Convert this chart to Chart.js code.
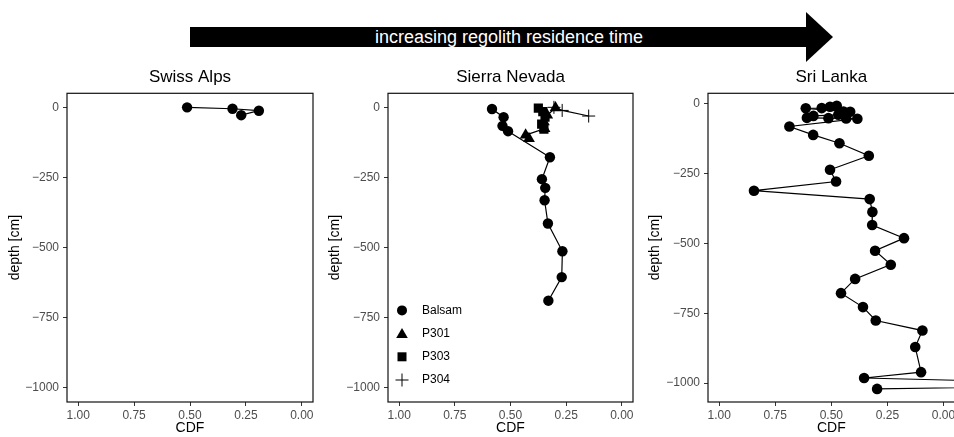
<!DOCTYPE html>
<html>
<head>
<meta charset="utf-8">
<script src="https://cdn.jsdelivr.net/npm/chart.js@4.4.1/dist/chart.umd.min.js"></script>
<style>
  html, body { margin: 0; padding: 0; background: #fff; }
  body { width: 954px; height: 437px; position: relative; overflow: hidden; font-family: "Liberation Sans", Arial, Helvetica, sans-serif; }
  canvas { position: absolute; top: 60px; }
  .arrow-body { position: absolute; left: 190px; top: 27px; width: 617px; height: 20px; background: #000; }
  .arrow-head { position: absolute; left: 806px; top: 12px; width: 27px; height: 50px; background: #000; clip-path: polygon(0 0, 100% 50%, 0 100%); }
  .arrow-text { position: absolute; left: 190px; width: 638px; top: 27px; height: 20px; line-height: 20px; text-align: center; color: #fff; font-size: 18px; white-space: nowrap; }
</style>
</head>
<body>
<div class="arrow-body"></div>
<div class="arrow-head"></div>
<div class="arrow-text">increasing regolith residence time</div>
<canvas id="chartSwiss" width="320" height="377" style="left:0px"></canvas>
<canvas id="chartSierra" width="330" height="377" style="left:320px"></canvas>
<canvas id="chartSri" width="320" height="377" style="left:640px"></canvas>
<script>
// Axis ticks
const cdfTicks = [0, 0.25, 0.5, 0.75, 1];
const depthTicks = [0, -250, -500, -750, -1000];

// Swiss Alps
const swissCdf = [0.513, 0.31, 0.192, 0.271];
const swissDepth = [0, -5, -12, -28];

// Sierra Nevada profiles
const balsamCdf = [0.583, 0.531, 0.536, 0.511, 0.323, 0.359, 0.344, 0.347, 0.332, 0.267, 0.270, 0.330];
const balsamDepth = [-6, -35, -66, -85, -178, -256, -287, -331, -414, -513, -605, -689];
const p301Cdf = [0.298, 0.335, 0.35, 0.347, 0.432, 0.417];
const p301Depth = [-2, -28, -52, -76, -99, -111];
const p303Cdf = [0.375, 0.355, 0.345, 0.36, 0.35];
const p303Depth = [-3, -15, -35, -60, -78];
const p304Cdf = [0.305, 0.268, 0.149];
const p304Depth = [0, -11, -31];

// Sri Lanka
const sriCdf = [0.476, 0.506, 0.543, 0.614, 0.446, 0.416, 0.469, 0.580, 0.609, 0.513, 0.434, 0.384,
  0.687, 0.581, 0.464, 0.333, 0.506, 0.479, 0.845, 0.329, 0.317, 0.318, 0.176, 0.305, 0.235,
  0.394, 0.457, 0.359, 0.302, 0.094, 0.126, 0.100, 0.354, -0.9, 0.296];
const sriDepth = [-7, -10, -15, -16, -27, -28, -39, -43, -50, -51, -52, -53,
  -81, -111, -141, -186, -236, -278, -311, -341, -387, -434, -481, -526, -576,
  -627, -678, -728, -776, -812, -871, -961, -982, -1007, -1021];

const FONT = '"Liberation Sans", Arial, Helvetica, sans-serif';

function toPoints(xs, ys) {
  return xs.map((x, i) => ({ x: x, y: ys[i] }));
}

function fmtDepth(v) {
  return v < 0 ? "\u2212" + Math.abs(v) : String(v);
}

// frame + panel title
const panelFrame = {
  id: "panelFrame",
  afterDraw(chart, args, opts) {
    const { ctx, chartArea: a } = chart;
    ctx.save();
    ctx.strokeStyle = "#111";
    ctx.lineWidth = 1.2;
    ctx.strokeRect(a.left, a.top, a.right - a.left, a.bottom - a.top);
    ctx.fillStyle = "#000";
    ctx.font = "17px " + FONT;
    ctx.textAlign = "center";
    ctx.textBaseline = "middle";
    ctx.fillText(opts.title, (a.left + a.right) / 2, a.top - 16);
    ctx.restore();
  }
};

// legend in bottom-left of the panel
function drawSymbol(ctx, style, x, y) {
  ctx.beginPath();
  if (style === "circle") {
    ctx.arc(x, y, 5, 0, Math.PI * 2);
    ctx.fill();
  } else if (style === "triangle") {
    ctx.moveTo(x, y - 5.5);
    ctx.lineTo(x + 5.8, y + 4.5);
    ctx.lineTo(x - 5.8, y + 4.5);
    ctx.closePath();
    ctx.fill();
  } else if (style === "rect") {
    ctx.rect(x - 4.5, y - 4.5, 9, 9);
    ctx.fill();
  } else if (style === "cross") {
    ctx.moveTo(x - 6.5, y); ctx.lineTo(x + 6.5, y);
    ctx.moveTo(x, y - 6.5); ctx.lineTo(x, y + 6.5);
    ctx.stroke();
  }
}

const insideLegend = {
  id: "insideLegend",
  afterDraw(chart, args, opts) {
    if (!opts.show) return;
    const { ctx, chartArea: a } = chart;
    const sets = chart.data.datasets;
    ctx.save();
    ctx.fillStyle = "#000";
    ctx.strokeStyle = "#000";
    ctx.lineWidth = 1;
    ctx.font = "12px " + FONT;
    ctx.textAlign = "left";
    ctx.textBaseline = "middle";
    sets.forEach((ds, i) => {
      const y = a.bottom - 22 - (sets.length - 1 - i) * 23.2;
      drawSymbol(ctx, ds.pointStyle, a.left + 14, y);
      ctx.fillText(ds.label, a.left + 34, y);
    });
    ctx.restore();
  }
};

function series(label, xs, ys, style, radius) {
  return {
    label: label,
    data: toPoints(xs, ys),
    showLine: true,
    borderColor: "#000",
    borderWidth: 1.2,
    tension: 0,
    pointStyle: style,
    pointRadius: radius,
    pointBackgroundColor: "#000",
    pointBorderColor: "#000",
    pointBorderWidth: style === "cross" ? 1 : 0
  };
}

function makePanel(id, title, datasets, cfg) {
  return new Chart(document.getElementById(id), {
    type: "scatter",
    data: { datasets: datasets },
    plugins: [panelFrame, insideLegend],
    options: {
      responsive: false,
      animation: false,
      events: [],
      layout: { padding: { top: 33.3, right: cfg.padRight, bottom: 0, left: 0 } },
      plugins: {
        legend: { display: false },
        tooltip: { enabled: false },
        panelFrame: { title: title },
        insideLegend: { show: !!cfg.legend }
      },
      scales: {
        x: {
          type: "linear",
          reverse: true,
          min: -0.05,
          max: 1.05,
          afterBuildTicks: (s) => { s.ticks = cdfTicks.map(v => ({ value: v })); },
          afterFit: (s) => { s.height = cfg.xHeight; },
          grid: { drawOnChartArea: false, drawTicks: true, tickLength: 4, color: "#333" },
          border: { display: false },
          ticks: {
            autoSkip: false, maxRotation: 0, padding: 2,
            color: "#4d4d4d", font: { family: FONT, size: 12 },
            callback: (v) => Number(v).toFixed(2)
          },
          title: {
            display: true, text: "CDF", color: "#000",
            font: { family: FONT, size: 14 },
            padding: { top: 0, bottom: 0 }
          }
        },
        y: {
          type: "linear",
          min: cfg.yMin,
          max: cfg.yMax,
          afterBuildTicks: (s) => { s.ticks = depthTicks.map(v => ({ value: v })); },
          afterFit: (s) => { s.width = cfg.yWidth; },
          grid: { drawOnChartArea: false, drawTicks: true, tickLength: 4, color: "#333" },
          border: { display: false },
          ticks: {
            padding: 4,
            color: "#4d4d4d", font: { family: FONT, size: 12 },
            callback: (v) => fmtDepth(v)
          },
          title: {
            display: true, text: "depth [cm]", color: "#000",
            font: { family: FONT, size: 14 },
            padding: { top: 7, bottom: 0 }
          }
        }
      }
    }
  });
}

makePanel("chartSwiss", "Swiss Alps",
  [series("Swiss Alps", swissCdf, swissDepth, "circle", 5.2)],
  { padRight: 7, yWidth: 67, xHeight: 35, yMin: -1050, yMax: 50 });

makePanel("chartSierra", "Sierra Nevada",
  [
    series("Balsam", balsamCdf, balsamDepth, "circle", 5.2),
    series("P301", p301Cdf, p301Depth, "triangle", 6.8),
    series("P303", p303Cdf, p303Depth, "rect", 6.5),
    series("P304", p304Cdf, p304Depth, "cross", 6.5)
  ],
  { padRight: 17, yWidth: 68, xHeight: 35, yMin: -1050, yMax: 50, legend: true });

makePanel("chartSri", "Sri Lanka",
  [series("Sri Lanka", sriCdf, sriDepth, "circle", 5.3)],
  { padRight: 5, yWidth: 68, xHeight: 35, yMin: -1068, yMax: 38 });
</script>
</body>
</html>
